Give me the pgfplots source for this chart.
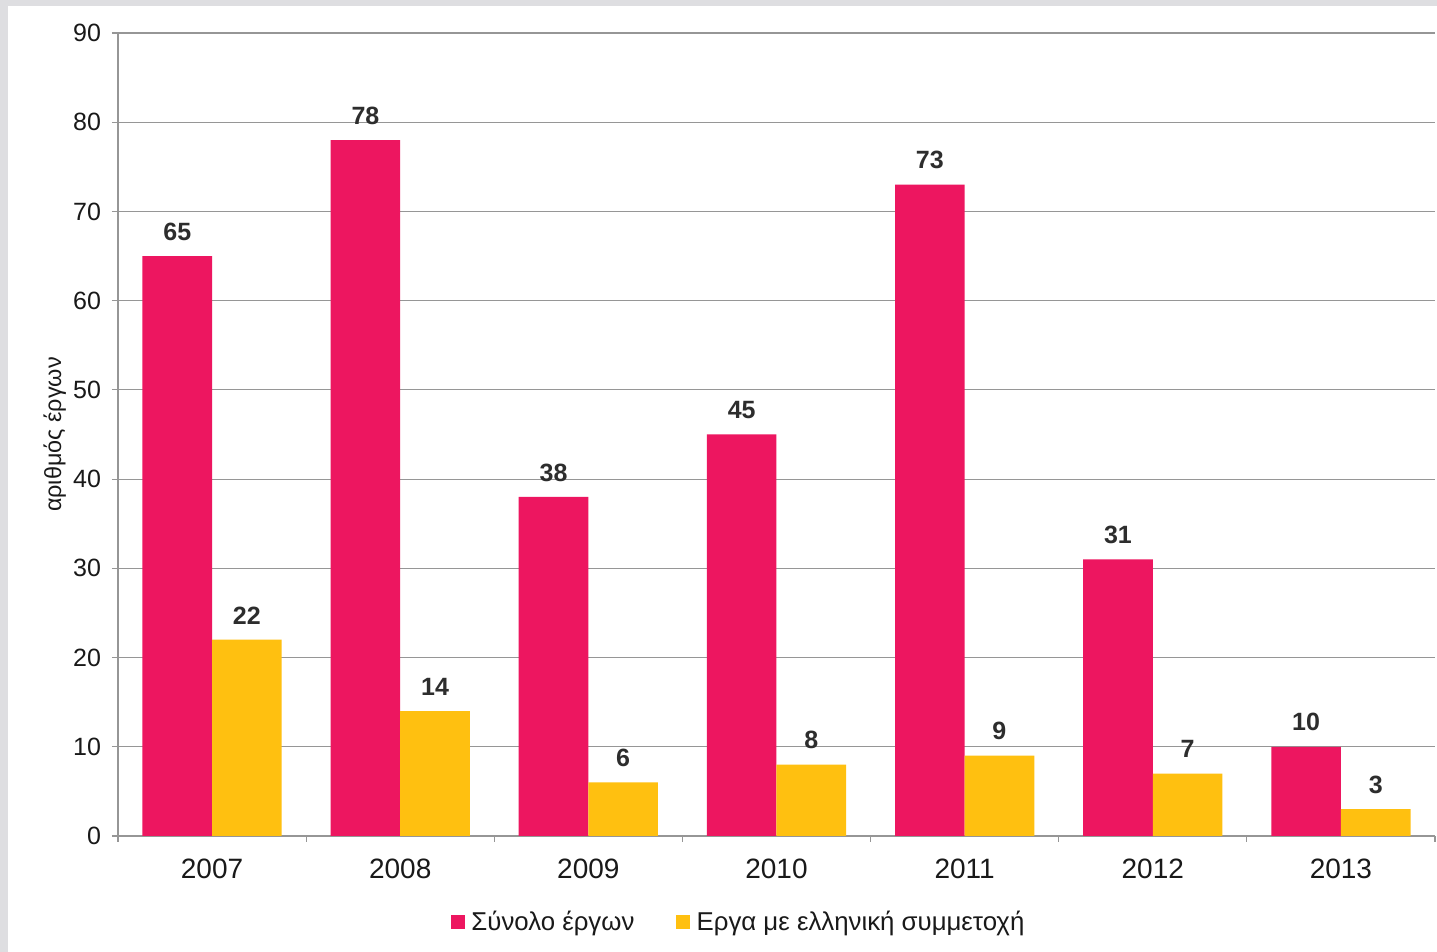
\documentclass[border=0pt]{standalone}
\usepackage{pgfplots}
\pgfplotsset{compat=1.18}
\usepackage{fontspec}
\setmainfont{Liberation Sans}
\definecolor{pinkbar}{RGB}{237,22,96}
\definecolor{yellowbar}{RGB}{255,192,16}
\definecolor{gridgray}{RGB}{150,150,150}
\definecolor{bggray}{RGB}{222,222,225}
\definecolor{txt}{RGB}{25,25,25}
\definecolor{lbl}{RGB}{45,45,45}
\begin{document}
\begin{tikzpicture}
\fill[bggray] (0,0) rectangle (718.5pt,476pt);
\fill[white] (4pt,0) rectangle (718.5pt,473pt);
\begin{axis}[
  at={(59pt,58pt)}, anchor=south west,
  scale only axis, width=658.5pt, height=401.5pt,
  xmin=-0.5, xmax=6.5, ymin=0, ymax=90,
  ybar, bar width=0.37,
  axis x line=bottom, axis y line=left,
  axis line style={-, gridgray, line width=0.6pt},
  ytick={0,10,...,90},
  ymajorgrids, grid style={gridgray, line width=0.6pt},
  xtick={-0.5,0.5,...,6.5}, xticklabels={},
  extra x ticks={0,1,2,3,4,5,6},
  extra x tick labels={2007,2008,2009,2010,2011,2012,2013},
  extra x tick style={major tick length=0pt, grid=none,
    xticklabel style={yshift=-8pt}},
  tick align=outside,
  major tick length=3pt,
  tick style={gridgray, line width=0.6pt},
  /pgf/number format/assume math mode=true,
  yticklabel style={font=\fontsize{12.5}{14}\selectfont, text=txt, xshift=-2pt},
  xticklabel style={font=\fontsize{14}{16}\selectfont, text=txt},
  ylabel={αριθμός έργων},
  ylabel style={at={(axis description cs:-0.048,0.5)}, anchor=center, font=\fontsize{11.7}{13}\selectfont, text=txt},
  nodes near coords,
  every node near coord/.append style={font=\bfseries\fontsize{12.5}{14}\selectfont, text=lbl, yshift=4.3pt},
  legend style={at={(axis description cs:0.473,-0.107)}, anchor=center, draw=none, fill=none,
    legend columns=2, font=\fontsize{12.9}{14}\selectfont, text=txt,
    /tikz/every even column/.append style={column sep=17.5pt},
    nodes={inner xsep=3.3pt}},
  legend image code/.code={\fill[#1,draw=none] (0pt,-3.5pt) rectangle (7pt,3.5pt);},
]
\addplot[bar shift=-0.185, fill=pinkbar, draw=none]
  coordinates {(0,65) (1,78) (2,38) (3,45) (4,73) (5,31) (6,10)};
\addplot[bar shift=0.185, fill=yellowbar, draw=none]
  coordinates {(0,22) (1,14) (2,6) (3,8) (4,9) (5,7) (6,3)};
\legend{Σύνολο έργων, Εργα με ελληνική συμμετοχή}
\end{axis}
\pgfresetboundingbox
\useasboundingbox (0,0) rectangle (718.5pt,476pt);
\end{tikzpicture}
\end{document}
